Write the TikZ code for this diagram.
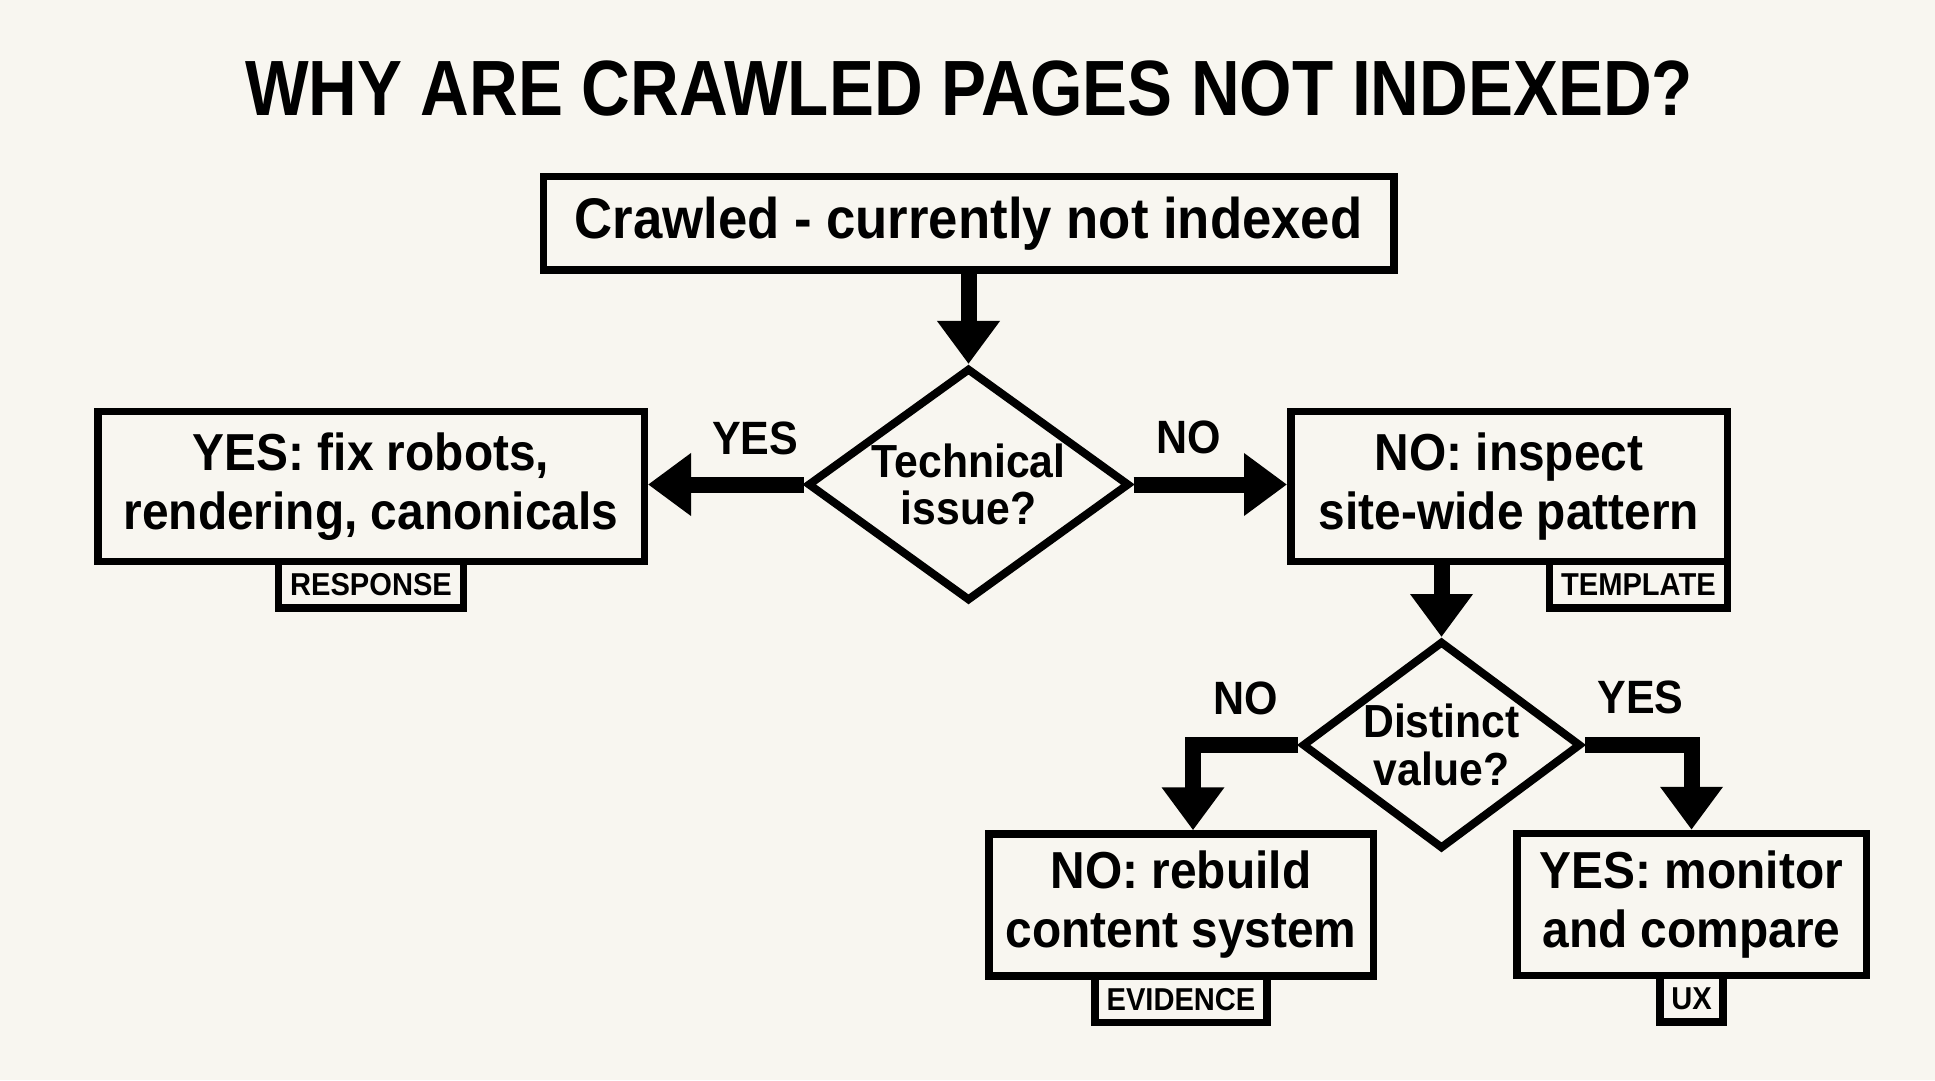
\documentclass[tikz,border=0pt]{standalone}
\usepackage{fontspec}
\setmainfont{Liberation Sans}[FakeStretch=0.92]
\newfontfamily\titlefont{Liberation Sans}[FakeStretch=0.86]
\usetikzlibrary{arrows.meta,positioning,shapes.geometric}
\definecolor{paper}{RGB}{248,246,240}

\begin{document}
\begin{tikzpicture}[
    every node/.style={font=\bfseries},
    box/.style={draw, line width=0.075cm, fill=paper, inner sep=0pt, align=center,
      font=\bfseries\fontsize{14.8}{16.8}\selectfont},
    decision/.style={diamond, draw, line width=0.08cm, fill=paper, inner sep=0pt, align=center,
      font=\bfseries\fontsize{13.2}{13.6}\selectfont},
    tagbox/.style={draw, line width=0.075cm, fill=paper, inner xsep=0.115cm, inner ysep=0pt,
      minimum height=0.465cm, font=\bfseries\fontsize{9}{10}\selectfont},
    lbl/.style={inner sep=0pt, font=\bfseries\fontsize{13.3}{14}\selectfont},
    arr/.style={-{Triangle[length=0.43cm,width=0.6cm]}, line width=0.16cm, line join=miter}
]
\fill[paper] (0,0) rectangle (19.35,-10.8);
\useasboundingbox (0,0) rectangle (19.35,-10.8);

\node[anchor=base, font=\titlefont\bfseries\fontsize{22.3}{24}\selectfont] (title) at (9.69,-1.16) {WHY ARE CRAWLED PAGES NOT INDEXED?};

% main flow
\node[box, minimum width=8.505cm, minimum height=0.935cm, font=\bfseries\fontsize{16.3}{17}\selectfont] (crawl) at (9.685,-2.235) {Crawled - currently not indexed};
\node[decision, aspect=1.38, minimum width=3.22cm, minimum height=2.33cm] (tech) at (9.685,-4.845) {Technical\\issue?};
\node[box, minimum width=5.465cm, minimum height=1.5cm] (fix) at (3.71,-4.865) {YES: fix robots,\\rendering, canonicals};
\node[box, minimum width=4.365cm, minimum height=1.5cm] (inspect) at (15.09,-4.865) {NO: inspect\\site-wide pattern};
\node[decision, aspect=1.34, minimum width=2.79cm, minimum height=2.08cm] (value) at (14.415,-7.45) {Distinct\\value?};
\node[box, minimum width=3.845cm, minimum height=1.42cm] (rebuild) at (11.81,-9.05) {NO: rebuild\\content system};
\node[box, minimum width=3.495cm, minimum height=1.42cm] (monitor) at (16.915,-9.045) {YES: monitor\\and compare};

% tags
\node[tagbox, below=-0.075cm of fix] (response) {RESPONSE};
\node[tagbox, below=-0.075cm of inspect.south east, anchor=north east] (template) {TEMPLATE};
\node[tagbox, below=-0.075cm of rebuild] (evidence) {EVIDENCE};
\node[tagbox, below=-0.075cm of monitor] (ux) {UX};

\draw[arr] (crawl) -- (tech);
\draw[arr] (tech.west) -- node[lbl, pos=0.31, above=0.215cm]{YES} (tech.west -| fix.east);
\draw[arr] (tech.east) -- node[lbl, pos=0.36, above=0.23cm]{NO} (tech.east -| inspect.west);
\draw[arr] (inspect.south -| value.north) -- (value.north);
\draw[arr] (value.west) -| node[lbl, pos=0.25, above=0.22cm]{NO} ([xshift=0.12cm]rebuild.north);
\draw[arr] (value.east) -| node[lbl, pos=0.26, above=0.23cm]{YES} (monitor.north);
\end{tikzpicture}
\end{document}
